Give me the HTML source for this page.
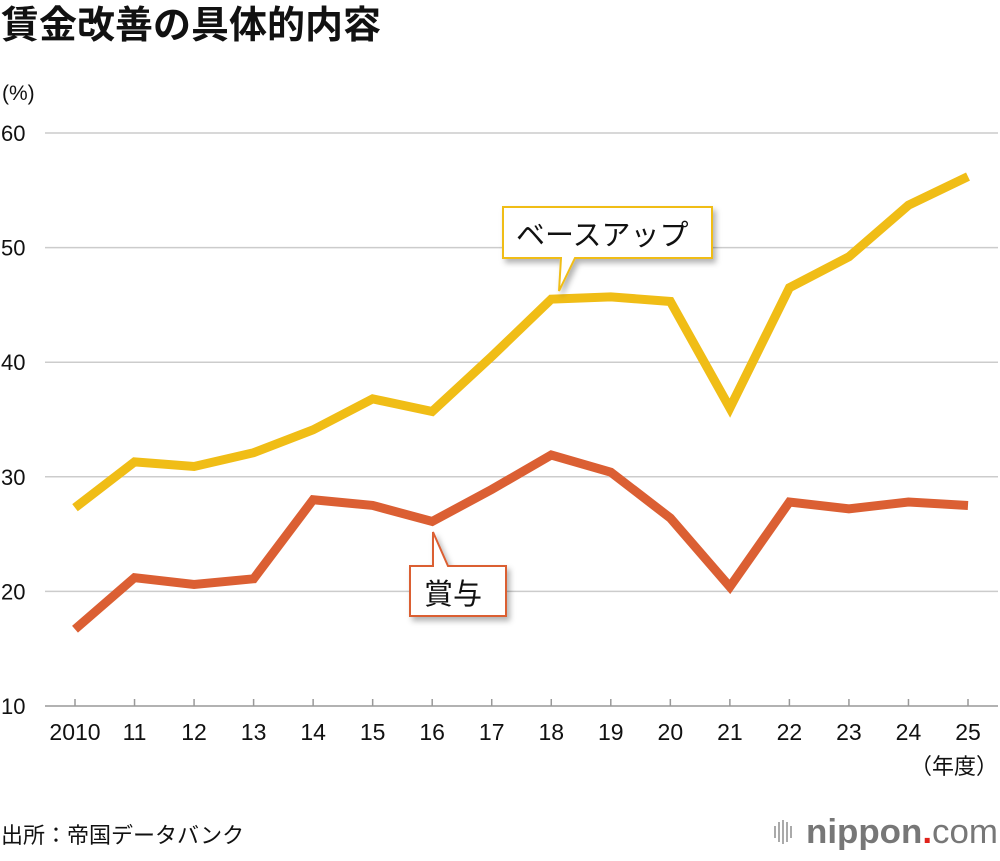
<!DOCTYPE html>
<html><head><meta charset="utf-8"><style>
body{margin:0;background:#fff;width:1000px;height:856px;overflow:hidden;font-family:"Liberation Sans","Noto Sans CJK JP",sans-serif}
svg text{font-family:"Liberation Sans","Noto Sans CJK JP",sans-serif}
</style></head><body>
<svg id="chart" width="1000" height="856">
<defs><filter id="sh" x="-20%" y="-20%" width="150%" height="160%"><feDropShadow dx="3" dy="4" stdDeviation="3" flood-color="#000" flood-opacity="0.3"/></filter></defs>
<text x="1" y="38" font-size="38" font-weight="bold" fill="#111">賃金改善の具体的内容</text>
<text x="2" y="100" font-size="21" fill="#111">(%)</text>
<g id="grid"></g><g id="xt"></g>
<g id="lines"></g>
<g filter="url(#sh)">
<path d="M503,207 H712 V258 H575 L559,291 L561,258 H503 Z" fill="#fff" stroke="#f0bd16" stroke-width="2"/>
</g>
<text x="516" y="245" font-size="29" fill="#111">ベースアップ</text>
<g filter="url(#sh)">
<path d="M410,566 H433 V532 L448,566 H506 V616 H410 Z" fill="#fff" stroke="#db5f33" stroke-width="2"/>
</g>
<text x="424" y="604" font-size="29" fill="#111">賞与</text>
<text x="998" y="774" font-size="22" fill="#111" text-anchor="end">（年度）</text>
<text x="1" y="843" font-size="22" fill="#111">出所：帝国データバンク</text>
<g>
<rect x="774" y="826" width="2" height="12" fill="#aaa"/><rect x="778" y="822" width="2" height="20" fill="#aaa"/><rect x="782" y="820" width="2" height="24" fill="#aaa"/><rect x="786" y="822" width="2" height="20" fill="#aaa"/><rect x="790" y="826" width="2" height="12" fill="#aaa"/>
<text x="806" y="843" font-size="34" font-weight="bold" fill="#777" textLength="192" lengthAdjust="spacingAndGlyphs">nippon<tspan fill="#e0231b">.</tspan><tspan font-weight="normal">com</tspan></text>
</g>
</svg>
<script>
const years=["2010","11","12","13","14","15","16","17","18","19","20","21","22","23","24","25"];
const baseUp=[27.3,31.3,30.9,32.1,34.1,36.8,35.7,40.5,45.5,45.7,45.3,36.0,46.5,49.2,53.7,56.2];
const bonus=[16.7,21.2,20.6,21.1,28.0,27.5,26.1,28.9,31.9,30.4,26.4,20.4,27.8,27.2,27.8,27.5];
const yTicks=[10,20,30,40,50,60];
const NS="http://www.w3.org/2000/svg";
const x=i=>75+i*(968-75)/(years.length-1);
const y=v=>706-(v-10)*(706-133)/50;
function mk(t,a,p){const e=document.createElementNS(NS,t);for(const k in a)e.setAttribute(k,a[k]);p.appendChild(e);return e;}
const grid=document.getElementById('grid');
yTicks.forEach(t=>{
 if(t>10){const l=mk('line',{x1:45,x2:998,y1:y(t),y2:y(t),stroke:'#ccc','stroke-width':1.5},grid);
 
 }
 const tx=mk('text',{x:1,y:y(t)+8,'font-size':22,fill:'#111'},grid);tx.textContent=t;
 
 
});
const ax=mk('line',{x1:45,x2:998,y1:706,y2:706,stroke:'#999','stroke-width':1.5},grid);


const xt=document.getElementById('xt');
years.forEach((yr,i)=>{
 const tk=mk('line',{x1:x(i),x2:x(i),y1:699,y2:706,stroke:'#999','stroke-width':1.5},xt);
 
 
 const t=mk('text',{x:x(i),y:740,'font-size':23,fill:'#111','text-anchor':'middle'},xt);t.textContent=yr;
 
 
});
const lines=document.getElementById('lines');
[[baseUp,'#f0bd16','line-base-up'],[bonus,'#db5f33','line-bonus']].forEach(([d,c,n])=>{
 const p=mk('polyline',{points:d.map((v,i)=>x(i)+','+y(v)).join(' '),fill:'none',stroke:c,'stroke-width':9,'stroke-linejoin':'miter','stroke-linecap':'butt'},lines);
 
 
});
</script>
</body></html>
